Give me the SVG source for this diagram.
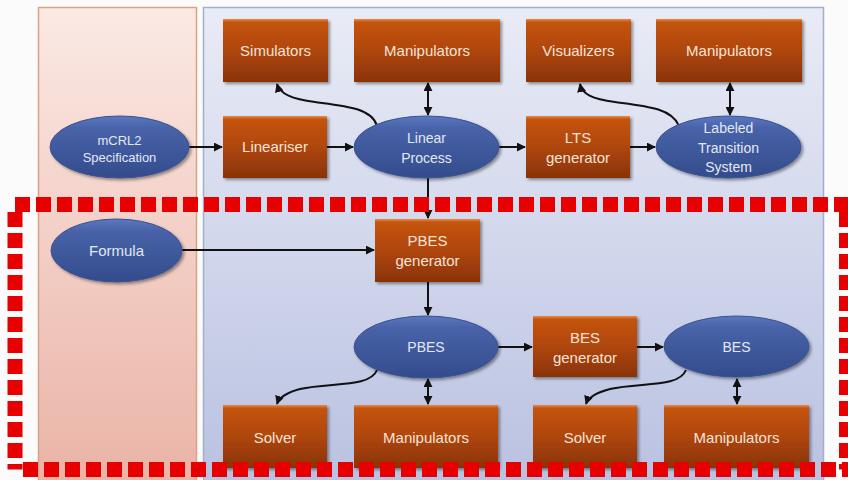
<svg xmlns="http://www.w3.org/2000/svg" width="848" height="480" viewBox="0 0 848 480">
<defs>
<linearGradient id="gPink" x1="0" y1="0" x2="0" y2="1">
<stop offset="0" stop-color="#fbe9e4"/><stop offset="1" stop-color="#eab3a6"/>
</linearGradient>
<linearGradient id="gBlue" x1="0" y1="0" x2="0" y2="1">
<stop offset="0" stop-color="#e9ecf6"/><stop offset="1" stop-color="#b9c1e1"/>
</linearGradient>
<linearGradient id="gBox" x1="0" y1="0" x2="0" y2="1">
<stop offset="0" stop-color="#ec8a4c"/><stop offset="0.05" stop-color="#c4540e"/><stop offset="0.45" stop-color="#b2480a"/><stop offset="1" stop-color="#8a3306"/>
</linearGradient>
<linearGradient id="gEll" x1="0" y1="0" x2="0" y2="1">
<stop offset="0" stop-color="#5a78c0"/><stop offset="0.2" stop-color="#4862a8"/><stop offset="1" stop-color="#334c8c"/>
</linearGradient>
<filter id="sh" x="-10%" y="-10%" width="125%" height="130%">
<feDropShadow dx="2" dy="2" stdDeviation="1.5" flood-color="#000" flood-opacity="0.4"/>
</filter>
<marker id="ah" viewBox="0 0 10 10" refX="9" refY="5" markerWidth="4.5" markerHeight="4.5" orient="auto-start-reverse" markerUnits="strokeWidth">
<path d="M0,0 L10,5 L0,10 z" fill="#111"/>
</marker>
<style>
.box{fill:url(#gBox);filter:url(#sh);}
.ell{fill:url(#gEll);stroke:#3a5290;stroke-width:1;filter:url(#sh);}
.bt{font-family:"Liberation Sans",Arial,sans-serif;font-size:15px;fill:#f6e3d6;text-anchor:middle;}
.et{font-family:"Liberation Sans",Arial,sans-serif;font-size:14px;fill:#e2e8f6;text-anchor:middle;}
.sm{font-size:13px;}
.lg{font-size:15px;}
.c{fill:none;stroke:#111;stroke-width:2;}
.a{marker-end:url(#ah);}
.d{marker-start:url(#ah);marker-end:url(#ah);}
.red{stroke:#e60000;stroke-width:15;stroke-dasharray:15 6;fill:none;}
</style>
</defs>
<rect width="848" height="480" fill="#fbfbfb"/>
<g id="panels">
<rect x="38.5" y="7.5" width="158" height="480" fill="url(#gPink)" stroke="#d9a283" stroke-width="1.5"/>
<rect x="203.5" y="7.5" width="620" height="480" fill="url(#gBlue)" stroke="#a3aecb" stroke-width="1.5"/>
</g>
<g id="connectors">
<path class="c a" d="M189,147 H222"/>
<path class="c a" d="M327,147 H353"/>
<path class="c a" d="M499,147 H525"/>
<path class="c a" d="M630,147 H655"/>
<path class="c d" d="M428,83 V115"/>
<path class="c d" d="M730,83 V115"/>
<path class="c a" d="M377,126 C372,108 345,106 315,102 C292,99 280,94 277,84"/>
<path class="c a" d="M679,126 C672,108 645,106 615,102 C592,99 582,94 580,84"/>
<path class="c a" d="M428,178 V218"/>
<path class="c a" d="M182,250 H374"/>
<path class="c a" d="M428,282 V315"/>
<path class="c a" d="M498,347 H532"/>
<path class="c a" d="M637,347 H663"/>
<path class="c d" d="M428,379 V404"/>
<path class="c d" d="M737,379 V404"/>
<path class="c a" d="M377,370 C370,388 330,382 300,389 C285,393 279,398 277,404"/>
<path class="c a" d="M686,370 C679,388 640,382 610,389 C595,393 588,398 586,404"/>
</g>
<g id="simulators"><rect class="box" x="223" y="19" width="105" height="63"/><text class="bt" x="275.5" y="56">Simulators</text></g>
<g id="manipulators1"><rect class="box" x="354" y="19" width="146" height="63"/><text class="bt" x="427" y="56">Manipulators</text></g>
<g id="visualizers"><rect class="box" x="526" y="19" width="105" height="63"/><text class="bt" x="578.5" y="56">Visualizers</text></g>
<g id="manipulators2"><rect class="box" x="656" y="19" width="146" height="63"/><text class="bt" x="729" y="56">Manipulators</text></g>
<g id="mcrl2"><ellipse class="ell" cx="119.5" cy="147" rx="69.5" ry="31"/><text class="et sm" x="119.5" y="144.5">mCRL2</text><text class="et sm" x="119.5" y="162">Specification</text></g>
<g id="lineariser"><rect class="box" x="223" y="116" width="104" height="62"/><text class="bt" x="275" y="152">Lineariser</text></g>
<g id="linearprocess"><ellipse class="ell" cx="426.5" cy="147" rx="72.5" ry="31"/><text class="et" x="426.5" y="143">Linear</text><text class="et" x="426.5" y="163">Process</text></g>
<g id="ltsgen"><rect class="box" x="526" y="116" width="104" height="62"/><text class="bt" x="578" y="143">LTS</text><text class="bt" x="578" y="163">generator</text></g>
<g id="lts"><ellipse class="ell" cx="728.5" cy="147" rx="72.5" ry="31"/><text class="et" x="728.5" y="133">Labeled</text><text class="et" x="728.5" y="153">Transition</text><text class="et" x="728.5" y="172">System</text></g>
<g id="formula"><ellipse class="ell" cx="116.5" cy="250.5" rx="65.5" ry="31.5"/><text class="et lg" x="116.5" y="256">Formula</text></g>
<g id="pbesgen"><rect class="box" x="375" y="219" width="105" height="63"/><text class="bt" x="427.5" y="246">PBES</text><text class="bt" x="427.5" y="266">generator</text></g>
<g id="pbes"><ellipse class="ell" cx="426" cy="347" rx="72" ry="31"/><text class="et" x="426" y="352">PBES</text></g>
<g id="besgen"><rect class="box" x="533" y="316" width="104" height="61"/><text class="bt" x="585" y="343">BES</text><text class="bt" x="585" y="363">generator</text></g>
<g id="bes"><ellipse class="ell" cx="736.5" cy="346.5" rx="72.5" ry="30.5"/><text class="et" x="736.5" y="352">BES</text></g>
<g id="solver1"><rect class="box" x="223" y="405" width="104" height="63"/><text class="bt" x="275" y="443">Solver</text></g>
<g id="manipulators3"><rect class="box" x="354" y="405" width="144" height="63"/><text class="bt" x="426" y="443">Manipulators</text></g>
<g id="solver2"><rect class="box" x="533" y="405" width="104" height="63"/><text class="bt" x="585" y="443">Solver</text></g>
<g id="manipulators4"><rect class="box" x="664" y="405" width="145" height="63"/><text class="bt" x="736.5" y="443">Manipulators</text></g>
<g id="highlight">
<path class="red" d="M15,204.5 H848"/>
<path class="red" d="M15,212 V469.5"/>
<path class="red" d="M23,469.5 H848"/>
<path class="red" d="M846.5,212 V469.5"/>
</g>
</svg>
